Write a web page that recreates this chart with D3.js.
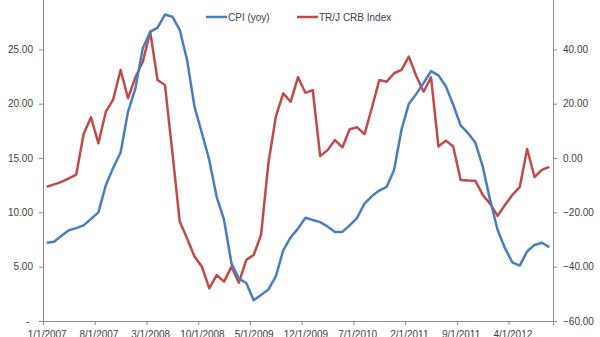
<!DOCTYPE html>
<html>
<head>
<meta charset="utf-8">
<script src="https://cdn.jsdelivr.net/npm/d3@7"></script>
<style>
  html, body { margin: 0; padding: 0; background: #fff; }
  svg { display: block; font-family: "Liberation Sans", Arial, sans-serif; }
  .axis path, .axis line { stroke: #8c8c8c; }
  .axis text { fill: #404040; font-size: 10px; }
</style>
</head>
<body>
<svg id="chart" width="600" height="337"></svg>
<script>
// Monthly observations, Jan 2007 – Sep 2012
const months = d3.timeMonth.range(new Date(2007, 0, 1), new Date(2012, 9, 1));

// CPI year-over-year change (left axis)
const cpiYoy = [
  7.2, 7.3, 7.85, 8.35, 8.55, 8.8, 9.4, 10.0, 12.5, 14.1,
  15.5, 19.25, 21.4, 25.1, 26.6, 27.0, 28.2, 28.0, 26.8, 24.0,
  19.7, 17.3, 14.8, 11.4, 9.3, 5.3, 3.9, 3.5, 1.9, 2.4,
  2.9, 4.1, 6.5, 7.7, 8.5, 9.5, 9.3, 9.1, 8.7, 8.2,
  8.2, 8.8, 9.5, 10.8, 11.5, 12.0, 12.35, 13.9, 17.6, 20.0,
  20.9, 21.9, 23.0, 22.6, 21.6, 19.9, 18.0, 17.3, 16.4, 14.2,
  11.1, 8.4, 6.7, 5.4, 5.1, 6.4, 7.0, 7.2, 6.8
];

// TR/J CRB Index, year-over-year % (right axis)
const crbIndex = [
  -10.6, -9.7, -8.8, -7.5, -6.1, 8.8, 15.0, 5.4, 17.0, 21.6,
  32.4, 22.0, 29.7, 35.4, 46.5, 28.7, 26.9, 2.2, -23.4, -29.6,
  -36.3, -40.0, -48.0, -43.1, -45.5, -40.0, -45.9, -37.5, -35.7, -28.3,
  -1.8, 15.2, 23.8, 20.7, 29.7, 24.0, 25.0, 0.7, 2.9, 6.6,
  3.9, 10.6, 11.3, 8.8, 18.5, 28.7, 28.1, 31.2, 32.4, 37.3,
  30.2, 24.4, 29.7, 4.2, 6.4, 4.2, -8.1, -8.3, -8.4, -13.6,
  -16.9, -21.3, -17.3, -13.6, -10.7, 3.3, -7.0, -4.4, -3.3
];

const leftTicks = [0, 5, 10, 15, 20, 25, 30];
const rightTicks = [-60, -40, -20, 0, 20, 40, 60];
const labelStep = 7;
const tickLabels = ["1/1/2007", "8/1/2007", "3/1/2008", "10/1/2008", "5/1/2009",
  "12/1/2009", "7/1/2010", "2/1/2011", "9/1/2011", "4/1/2012"];

const seriesColors = { cpi: "#4a7ebb", crb: "#be4b48" };

const svg = d3.select("#chart");
const plot = { left: 43, right: 553, top: -5, bottom: 321 };

// Category boundaries (ticks sit between months)
const xEdge = d3.scaleLinear().domain([0, months.length]).range([plot.left, plot.right]);
const xMid = i => xEdge(i + 0.5);

const yLeft = d3.scaleLinear().domain([0, 30]).range([plot.bottom, plot.top]);
const yRight = d3.scaleLinear().domain([-60, 60]).range([plot.bottom, plot.top]);

// Left axis (zero shown as an accounting dash)
const leftAxis = svg.append("g").attr("class", "axis")
  .attr("transform", `translate(${plot.left},0)`)
  .call(d3.axisLeft(yLeft).tickValues(leftTicks).tickSizeOuter(0).tickSize(4).tickPadding(6)
    .tickFormat(d => d === 0 ? "-" : d3.format(".2f")(d)));
leftAxis.selectAll(".tick").filter(d => d === 0).select("text").attr("dx", -4);

// Right axis
svg.append("g").attr("class", "axis")
  .attr("transform", `translate(${plot.right},0)`)
  .call(d3.axisRight(yRight).tickValues(rightTicks).tickSizeOuter(0).tickSize(4).tickPadding(6)
    .tickFormat(d3.format(".2f")));

// Bottom axis: tick marks at category boundaries
const edgeTicks = d3.range(0, months.length, labelStep);
svg.append("g").attr("class", "axis")
  .attr("transform", `translate(0,${plot.bottom})`)
  .call(d3.axisBottom(xEdge).tickValues(edgeTicks).tickSizeOuter(0).tickSize(4).tickFormat(""));

// Bottom labels centered in their month
const labelAxis = svg.append("g").attr("class", "axis")
  .attr("transform", `translate(0,${plot.bottom})`)
  .call(d3.axisBottom(xEdge)
    .tickValues(edgeTicks.map(i => i + 0.5)).tickSize(0).tickPadding(10)
    .tickFormat((d, k) => tickLabels[k]));
labelAxis.select(".domain").remove();

// Series lines
const cpiLine = d3.line().x((d, i) => xMid(i)).y(d => yLeft(d));
const crbLine = d3.line().x((d, i) => xMid(i)).y(d => yRight(d));

svg.append("path").datum(crbIndex)
  .attr("fill", "none").attr("stroke", seriesColors.crb).attr("stroke-width", 2.5)
  .attr("stroke-linejoin", "round").attr("d", crbLine);

svg.append("path").datum(cpiYoy)
  .attr("fill", "none").attr("stroke", seriesColors.cpi).attr("stroke-width", 2.5)
  .attr("stroke-linejoin", "round").attr("d", cpiLine);

// Legend
const legendItems = [
  { name: "CPI (yoy)", color: seriesColors.cpi, x: 206 },
  { name: "TR/J CRB Index", color: seriesColors.crb, x: 297 }
];
const legend = svg.append("g").attr("transform", "translate(0,17)");
legendItems.forEach(item => {
  legend.append("line").attr("x1", item.x).attr("x2", item.x + 21)
    .attr("stroke", item.color).attr("stroke-width", 2.5);
  legend.append("text").attr("x", item.x + 22).attr("y", 3.5)
    .attr("font-size", 10).attr("fill", "#404040").text(item.name);
});
</script>
</body>
</html>
